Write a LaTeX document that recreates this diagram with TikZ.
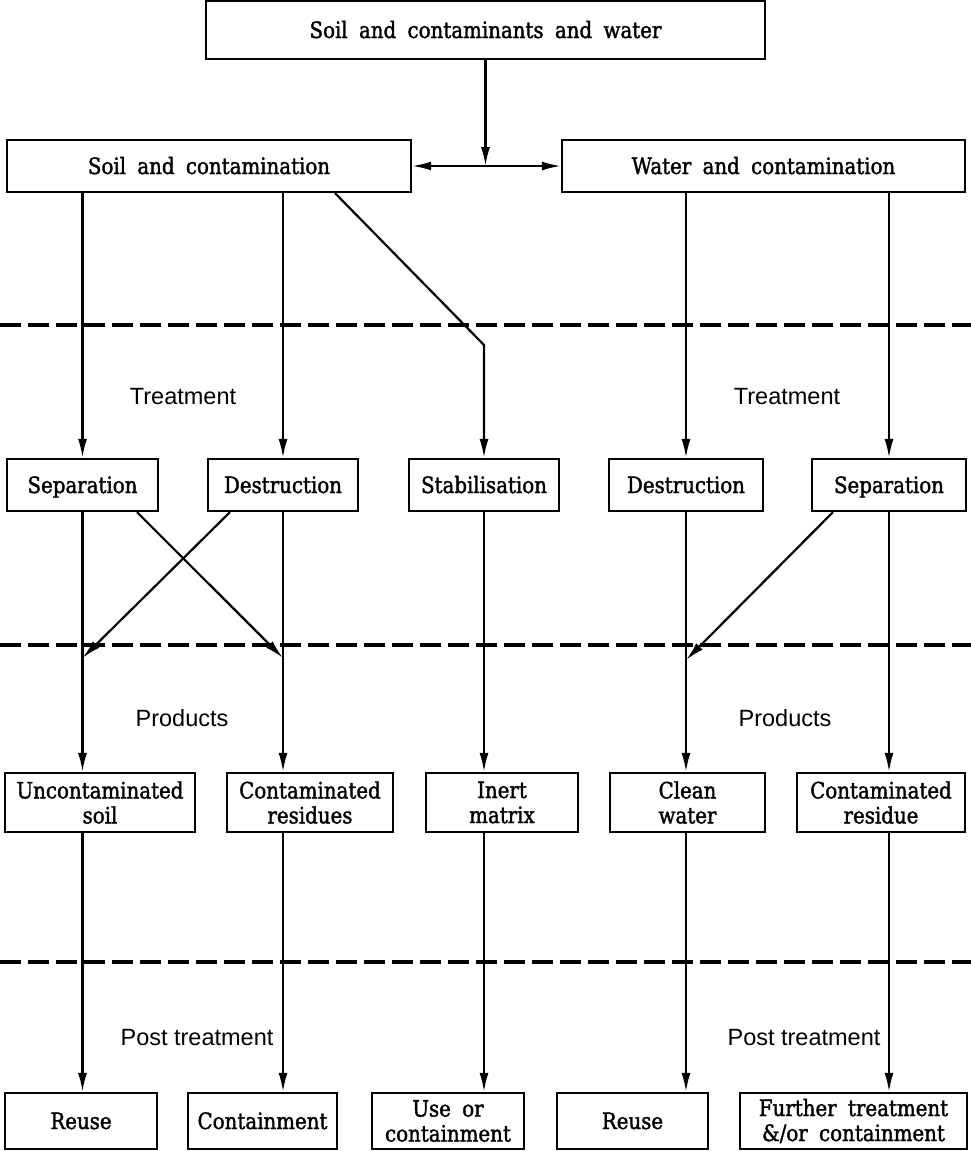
\documentclass[tikz,border=0pt]{standalone}
\usepackage{fontspec}
\setmainfont{DejaVu Serif}
\newfontfamily\boxfont[WordSpace=1.8,FakeStretch=0.88,FakeBold=1.6]{DejaVu Serif}
\newfontfamily\labelfont{Liberation Sans}
\usetikzlibrary{arrows.meta}

\begin{document}
\begin{tikzpicture}[x=1pt,y=-1pt,
  box/.style={draw,line width=2.2pt,inner sep=0pt,align=center,
    font=\boxfont\fontsize{22.5}{25}\selectfont},
  single/.style={box,text height=17pt,text depth=1pt},
  link/.style={line width=2.2pt},
  tip/.tip={Latex[length=19pt,width=9pt]},
  arr/.style={link,-tip},
  dbl/.style={link,tip-tip},
  stage/.style={line width=3.8pt,dash pattern=on 21pt off 7pt},
  phase/.style={inner sep=0pt,font=\labelfont\fontsize{23.5}{28}\selectfont}]

\useasboundingbox (0,0) rectangle (971,1151);
\fill[white] (0,0) rectangle (971,1151);

% stage separators
\draw[stage] (0,325) -- (971,325);
\draw[stage] (0,645) -- (971,645);
\draw[stage] (0,962) -- (971,962);

% stage names
\node[phase] (tL) at (183,397) {Treatment};
\node[phase] (tR) at (787,397) {Treatment};
\node[phase] (pL) at (182,718) {Products};
\node[phase] (pR) at (785,718) {Products};
\node[phase] (ptL) at (197,1038) {Post treatment};
\node[phase] (ptR) at (804,1038) {Post treatment};

% source
\node[single,minimum width=559pt,minimum height=58pt] (top) at (485.5,30) {Soil and contaminants and water};
\node[single,minimum width=404pt,minimum height=52pt] (soil) at (209,166) {Soil and contamination};
\node[single,minimum width=403pt,minimum height=52pt] (water) at (763.5,166) {Water and contamination};
\coordinate (j) at (485.5,166);

% treatment
\node[single,minimum width=151pt,minimum height=52pt] (sepL) at (82.5,485) {Separation};
\node[single,minimum width=150pt,minimum height=52pt] (desL) at (283,485) {Destruction};
\node[single,minimum width=150pt,minimum height=52pt] (stab) at (484,485) {Stabilisation};
\node[single,minimum width=154pt,minimum height=52pt] (desR) at (686,485) {Destruction};
\node[single,minimum width=154pt,minimum height=52pt] (sepR) at (889,485) {Separation};

% products
\node[box,minimum width=190pt,minimum height=59pt] (unc) at (100,802.5) {Uncontaminated\\soil};
\node[box,minimum width=166pt,minimum height=59pt] (cres) at (310,802.5) {Contaminated\\residues};
\node[box,minimum width=152pt,minimum height=59pt] (inert) at (502,802.5) {Inert\\matrix};
\node[box,minimum width=155pt,minimum height=59pt] (clean) at (687.5,802.5) {Clean\\water};
\node[box,minimum width=168pt,minimum height=59pt] (cresd) at (881,802.5) {Contaminated\\residue};

% post treatment
\node[single,minimum width=152pt,minimum height=56pt] (reuseL) at (81,1121) {Reuse};
\node[single,minimum width=149pt,minimum height=56pt] (cont) at (262.5,1121) {Containment};
\node[box,minimum width=152pt,minimum height=56pt] (useor) at (448,1121) {Use or\\containment};
\node[single,minimum width=151pt,minimum height=56pt] (reuseR) at (632.5,1121) {Reuse};
\node[box,minimum width=227pt,minimum height=56pt] (further) at (853.5,1121) {Further treatment\\\&/or containment};

% split into soil and water
\draw[arr] (top.south) -- (j);
\draw[dbl] (soil.east) -- (water.west);

% soil to treatment
\coordinate (bend) at (484,345);
\draw[arr] (sepL.north |- soil.south) -- (sepL.north);
\draw[arr] (desL.north |- soil.south) -- (desL.north);
\draw[arr] ([xshift=126pt]soil.south) -- (bend) -- (stab.north);
\draw[arr] (desR.north |- water.south) -- (desR.north);
\draw[arr] (sepR.north |- water.south) -- (sepR.north);

% treatment to products
\coordinate (mL) at (82.5,658);
\coordinate (mC) at (283,658);
\coordinate (mR) at (686,660);
\draw[arr] (sepL.south) -- (sepL.south |- unc.north);
\draw[arr] (desL.south) -- (desL.south |- cres.north);
\draw[arr] (stab.south) -- (stab.south |- inert.north);
\draw[arr] (desR.south) -- (desR.south |- clean.north);
\draw[arr] (sepR.south) -- (sepR.south |- cresd.north);
\draw[arr] ([xshift=54.5pt]sepL.south) -- (mC);
\draw[arr] ([xshift=-53pt]desL.south) -- (mL);
\draw[arr] ([xshift=-56pt]sepR.south) -- (mR);

% products to post treatment
\draw[arr] (unc.south -| sepL.south) -- (reuseL.north -| sepL.south);
\draw[arr] (cres.south -| desL.south) -- (cont.north -| desL.south);
\draw[arr] (inert.south -| stab.south) -- (useor.north -| stab.south);
\draw[arr] (clean.south -| desR.south) -- (reuseR.north -| desR.south);
\draw[arr] (cresd.south -| sepR.south) -- (further.north -| sepR.south);
\end{tikzpicture}
\end{document}
